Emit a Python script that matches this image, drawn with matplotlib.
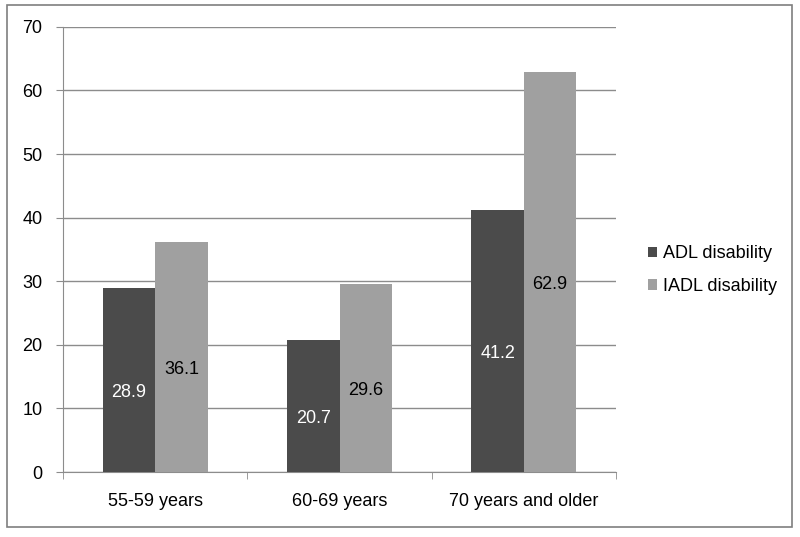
import numpy as np
import matplotlib.pyplot as plt
from matplotlib.patches import Rectangle

plt.rcParams['font.family'] = ['Liberation Sans', 'DejaVu Sans']

categories = ['55-59 years', '60-69 years', '70 years and older']
adl = [28.9, 20.7, 41.2]
iadl = [36.1, 29.6, 62.9]
series_names = ['ADL disability', 'IADL disability']

dark = '#4b4b4b'
light = '#a0a0a0'
grid_col = '#8c8c8c'
fs = 13

fig = plt.figure(figsize=(8, 5.37), dpi=100)
ax = fig.add_axes([0.079, 0.121, 0.691, 0.829])

x = np.arange(len(categories))
w = 0.285
b1 = ax.bar(x - w / 2, adl, w, color=dark, label=series_names[0], zorder=3)
b2 = ax.bar(x + w / 2, iadl, w, color=light, label=series_names[1], zorder=3)

# value labels inside bars (slightly below centre, like the original)
for xi, v in zip(x, adl):
    ax.text(xi - w / 2, v / 2 - 2, f'{v:.1f}', ha='center', va='center',
            color='white', fontsize=fs, zorder=4)
for xi, v in zip(x, iadl):
    ax.text(xi + w / 2, v / 2 - 2, f'{v:.1f}', ha='center', va='center',
            color='black', fontsize=fs, zorder=4)

ax.set_ylim(0, 70)
ax.set_xlim(-0.5, 2.5)
ax.set_yticks(range(0, 71, 10))
ax.yaxis.grid(True, color=grid_col, linewidth=1)
ax.set_axisbelow(True)

ax.set_xticks(x)
ax.set_xticklabels(categories, fontsize=fs)
ax.set_xticks([-0.5, 0.5, 1.5, 2.5], minor=True)
ax.tick_params(axis='x', which='major', length=0, pad=15)
ax.tick_params(axis='x', which='minor', length=5, color=grid_col, direction='out')
ax.tick_params(axis='y', length=5, color=grid_col, labelsize=fs, pad=10)

for s in ['top', 'right']:
    ax.spines[s].set_visible(False)
for s in ['left', 'bottom']:
    ax.spines[s].set_color(grid_col)

fig.legend(handles=[b1, b2], labels=series_names, loc='center left',
           bbox_to_anchor=(0.79, 0.497), frameon=False, fontsize=fs,
           handlelength=0.5, handleheight=0.5, handletextpad=0.3,
           labelspacing=0.85)

# outer chart frame
fig.patches.append(Rectangle((0.009, 0.019), 0.981, 0.972, transform=fig.transFigure,
                             fill=False, edgecolor='#7f7f7f', linewidth=1.2))

fig.savefig('out.png', dpi=100)
